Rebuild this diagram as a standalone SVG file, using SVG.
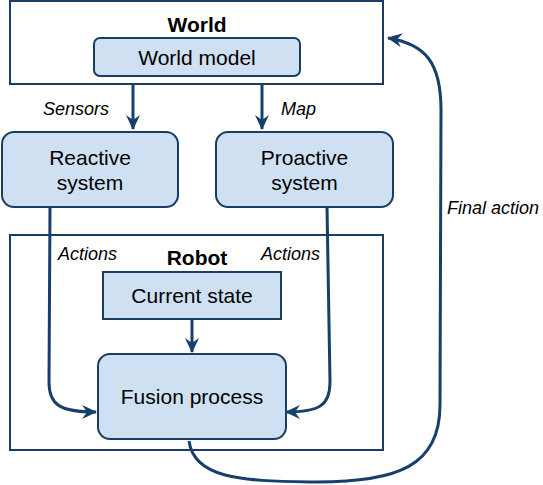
<svg xmlns="http://www.w3.org/2000/svg" width="543" height="485" viewBox="0 0 543 485">
<style>
.frame{fill:#ffffff;stroke:#1a3d63;stroke-width:2}
.box{fill:#cfe0f2;stroke:#1a3d63;stroke-width:2}
.t{font-family:"Liberation Sans",Arial,sans-serif;font-size:21px;fill:#000;text-anchor:middle}
.b{font-weight:bold}
.i{font-family:"Liberation Sans",Arial,sans-serif;font-size:18px;font-style:italic;fill:#000}
.c{fill:none;stroke:#173f6b;stroke-width:3}
</style>
<defs>
<marker id="ah" markerWidth="16" markerHeight="14" refX="14" refY="7" orient="auto" markerUnits="userSpaceOnUse">
<path d="M0,0 L15,7 L0,14 L5,7 Z" fill="#173f6b"/>
</marker>
</defs>
<rect width="543" height="485" fill="#ffffff"/>
<g id="world">
<rect class="frame" x="10" y="1" width="373" height="83"/>
<text class="t b" x="197" y="32">World</text>
</g>
<g id="world-model">
<rect class="box" x="94" y="38" width="206" height="38" rx="6"/>
<text class="t" x="197" y="65">World model</text>
</g>
<g id="reactive">
<rect class="box" x="2" y="132" width="176" height="75" rx="12"/>
<text class="t" x="90" y="165">Reactive</text>
<text class="t" x="90" y="190">system</text>
</g>
<g id="proactive">
<rect class="box" x="216" y="132" width="177" height="75" rx="12"/>
<text class="t" x="304.5" y="165">Proactive</text>
<text class="t" x="304.5" y="190">system</text>
</g>
<g id="robot">
<rect class="frame" x="10" y="235" width="373" height="215"/>
<text class="t b" x="197" y="265">Robot</text>
</g>
<g id="current-state">
<rect class="box" x="103" y="272" width="178" height="47"/>
<text class="t" x="192" y="303">Current state</text>
</g>
<g id="fusion">
<rect class="box" x="98" y="354" width="188" height="85" rx="12"/>
<text class="t" x="192" y="404">Fusion process</text>
</g>
<g id="connectors">
<path class="c" d="M133,85 L133,129" marker-end="url(#ah)"/>
<path class="c" d="M262,85 L262,129" marker-end="url(#ah)"/>
<path class="c" d="M192,319 L192,352" marker-end="url(#ah)"/>
<path class="c" d="M50,207 L49,382 C49,405 60,412 96,412" marker-end="url(#ah)"/>
<path class="c" d="M327,207 L330,382 C330,405 320,412 286,412" marker-end="url(#ah)"/>
<path class="c" d="M189,441 C194,478 240,481 310,482 C400,483 440,465 440,405 L441,110 C441,62 425,44 388,38" marker-end="url(#ah)"/>
<text class="i" x="43" y="115">Sensors</text>
<text class="i" x="281" y="115">Map</text>
<text class="i" x="58" y="260">Actions</text>
<text class="i" x="261" y="260">Actions</text>
<text class="i" x="447" y="214">Final action</text>
</g>
</svg>
